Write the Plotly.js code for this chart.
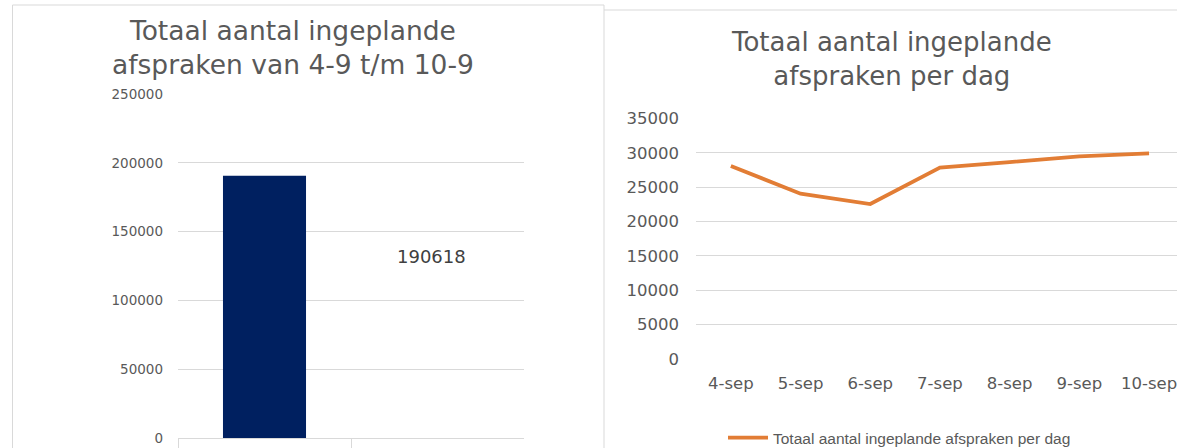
<!DOCTYPE html>
<html>
<head>
<meta charset="utf-8">
<script src="https://cdn.plot.ly/plotly-3.0.1.min.js"></script>
<style>html,body{margin:0;padding:0;background:#fff;}#chart{width:1177px;height:448px;}</style>
</head>
<body>
<div id="chart"></div>
<script>
// ---- data ----
const barTitle = "Totaal aantal ingeplande<br>afspraken van 4-9 t/m 10-9";
const barCategories = ["4-9 t/m 10-9", "totaal"];
const barValues = [190618, null];
const totalLabel = 190618;

const lineTitle = "Totaal aantal ingeplande<br>afspraken per dag";
const seriesName = "Totaal aantal ingeplande afspraken per dag";
const days = ["4-sep", "5-sep", "6-sep", "7-sep", "8-sep", "9-sep", "10-sep"];
const perDay = [28100, 24050, 22550, 27850, 28650, 29500, 29918];

const W = 1177, H = 448;
const px = v => v / W;
const py = v => 1 - v / H;
const grey = "#595959";
const grid = "#d9d9d9";
const font = "DejaVu Sans, Verdana, sans-serif";

const traces = [
  {
    type: "bar", x: barCategories, y: barValues, xaxis: "x", yaxis: "y",
    marker: {color: "#002060"}, showlegend: false, hoverinfo: "y"
  },
  {
    type: "scatter", mode: "lines", name: seriesName, x: days, y: perDay,
    xaxis: "x2", yaxis: "y2",
    line: {color: "#E27D35", width: 3.8}
  }
];

const layout = {
  width: W, height: H,
  margin: {l: 0, r: 0, t: 0, b: 0, autoexpand: false},
  paper_bgcolor: "#fff", plot_bgcolor: "#fff",
  font: {family: font, color: grey},
  bargap: 0.52,
  xaxis: {
    domain: [px(178), px(524)], type: "category", anchor: "y",
    showticklabels: false, showgrid: false, zeroline: false,
    showline: true, linecolor: grid, linewidth: 1,
    ticks: "outside", tickson: "boundaries", ticklen: 10, tickcolor: grid,
    fixedrange: true
  },
  yaxis: {
    domain: [py(438), py(94)], range: [0, 250000], dtick: 50000, anchor: "x",
    tickformat: "d", gridcolor: grid, gridwidth: 1, zeroline: false,
    showline: false, ticklabelstandoff: 14,
    tickfont: {family: font, size: 13.5, color: grey}, fixedrange: true
  },
  xaxis2: {
    domain: [px(696), 1], type: "category", anchor: "y2",
    range: [-0.5, -0.5 + (W - 696) / 69.7],
    showgrid: false, zeroline: false, showline: false, ticks: "",
    ticklabelstandoff: 12,
    tickfont: {family: font, size: 16.5, color: grey}, fixedrange: true
  },
  yaxis2: {
    domain: [py(359), py(118.5)], range: [0, 35000], dtick: 5000, anchor: "x2",
    tickformat: "d", gridcolor: grid, gridwidth: 1, zeroline: false,
    showline: false, ticklabelstandoff: 16,
    tickfont: {family: font, size: 16.5, color: grey}, fixedrange: true
  },
  showlegend: true,
  legend: {
    orientation: "h", xref: "container", yref: "container",
    x: px(723), xanchor: "left", y: py(438), yanchor: "middle",
    itemwidth: 40,
    font: {family: "Liberation Sans Narrow, Liberation Sans, Arial, sans-serif", size: 15.5, color: grey},
    bgcolor: "rgba(0,0,0,0)"
  },
  annotations: [
    {text: barTitle, xref: "paper", yref: "paper", x: px(293), y: py(48),
     xanchor: "center", yanchor: "middle", showarrow: false,
     font: {family: font, size: 26.5, color: grey}},
    {text: lineTitle, xref: "paper", yref: "paper", x: px(891), y: py(59),
     xanchor: "center", yanchor: "middle", showarrow: false,
     font: {family: font, size: 26, color: grey}},
    {text: String(totalLabel), xref: "x", yref: "paper", x: barCategories[1], xshift: -6,
     y: py(256), xanchor: "center", yanchor: "middle", showarrow: false,
     font: {family: font, size: 18, color: "#404040"}}
  ],
  shapes: [
    {type: "line", xref: "paper", yref: "paper", x0: px(12.5), x1: px(12.5), y0: py(5), y1: 0, line: {color: grid, width: 1}},
    {type: "line", xref: "paper", yref: "paper", x0: px(12.5), x1: px(604), y0: py(5), y1: py(5), line: {color: grid, width: 1}},
    {type: "line", xref: "paper", yref: "paper", x0: px(604), x1: px(604), y0: py(5), y1: 0, line: {color: grid, width: 1}},
    {type: "line", xref: "paper", yref: "paper", x0: px(604), x1: 1, y0: py(10), y1: py(10), line: {color: grid, width: 1}}
  ]
};

Plotly.newPlot("chart", traces, layout, {displayModeBar: false, staticPlot: true});
</script>
</body>
</html>
